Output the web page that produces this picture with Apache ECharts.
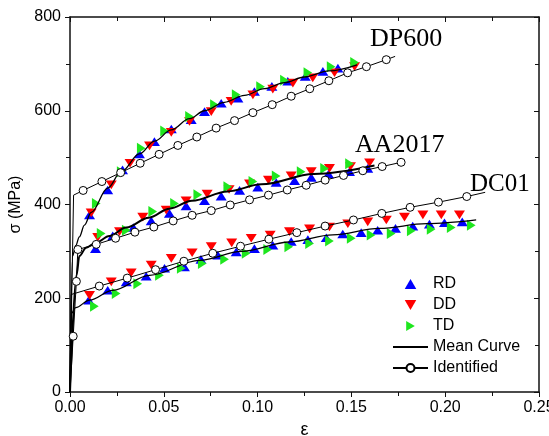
<!DOCTYPE html>
<html><head><meta charset="utf-8">
<script src="https://cdn.jsdelivr.net/npm/echarts@6/dist/echarts.min.js"></script>
<style>html,body{margin:0;padding:0;background:#fff}#c{width:549px;height:436px}</style>
</head><body><div id="c"></div>
<script>
// ---------- axes ----------
const xTickValues = [0, 0.05, 0.10, 0.15, 0.20, 0.25];
const xTickLabels = ['0.00', '0.05', '0.10', '0.15', '0.20', '0.25'];
const yTickValues = [0, 200, 400, 600, 800];
const yTickLabels = ['0', '200', '400', '600', '800'];

// ---------- DP600 ----------
const dp600RD = [[0.0104,378],[0.0201,431],[0.028,474],[0.037,508],[0.045,534],[0.054,561],[0.0646,581],[0.0717,598],[0.0806,616],[0.0895,627],[0.0983,641],[0.1076,652],[0.1161,663],[0.1254,673],[0.1348,684],[0.1428,691]];
const dp600DD = [[0.0113,382],[0.022,442],[0.032,488],[0.0424,525],[0.054,554],[0.0637,577],[0.0753,598],[0.0859,620],[0.0975,634],[0.1081,646],[0.1188,659],[0.1294,670],[0.141,681],[0.1517,694]];
const dp600TD = [[0.014,402],[0.0273,470],[0.038,520],[0.0504,557],[0.0637,588],[0.077,613],[0.0886,634],[0.1016,651],[0.1143,665],[0.1268,681],[0.1392,694],[0.1517,703]];
const dp600Mean = [[0,0],[0.0014,290],[0.003,312],[0.005,331],[0.0077,356],[0.0113,383],[0.0201,435],[0.0273,470],[0.037,508],[0.045,535],[0.054,559],[0.0637,583],[0.0717,600],[0.0823,618],[0.093,633],[0.1037,647],[0.1143,660],[0.125,672],[0.138,685],[0.153,698]];
const dp600IdStart = [[0,0],[0.0019,420]];
const dp600IdPts = [[0.007,430],[0.017,449],[0.027,468],[0.0374,488],[0.0475,507],[0.0575,526],[0.0676,544],[0.0779,563],[0.0877,579],[0.0975,596],[0.1078,613],[0.1179,631],[0.1278,647],[0.138,664],[0.148,681],[0.158,694],[0.1686,709]];
const dp600IdEnd = [[0.1733,716]];

// ---------- AA2017 ----------
const aaRD = [[0.0136,306],[0.0228,333],[0.0338,351],[0.0433,365],[0.053,381],[0.0619,397],[0.0717,408],[0.0806,418],[0.0904,430],[0.1001,437],[0.1099,447],[0.1197,451],[0.1286,458],[0.1378,465],[0.149,470],[0.1587,477]];
const aaDD = [[0.0148,330],[0.0264,342],[0.0388,373],[0.0513,388],[0.0619,408],[0.0731,422],[0.0848,432],[0.0957,444],[0.1058,452],[0.1179,461],[0.1286,470],[0.1383,477],[0.1495,481],[0.1597,489]];
const aaTD = [[0.0166,338],[0.03,345],[0.0441,385],[0.0557,402],[0.0681,421],[0.0841,438],[0.0975,449],[0.1099,461],[0.1232,470],[0.1357,477],[0.149,487]];
const aaMean = [[0,0],[0.0035,250],[0.005,290],[0.0086,308],[0.014,319],[0.021,333],[0.03,351],[0.042,372],[0.053,391],[0.065,408],[0.084,428],[0.102,443],[0.13,465],[0.1623,483]];
const aaIdStart = [[0,0]];
const aaIdPts = [[0.0017,119],[0.0034,236],[0.0042,304],[0.014,315],[0.0243,328],[0.0346,341],[0.0447,352],[0.055,365],[0.0651,377],[0.0753,387],[0.0854,399],[0.0957,410],[0.1058,420],[0.1158,431],[0.1259,441],[0.136,452],[0.1458,462],[0.1561,472],[0.1664,481],[0.1765,490]];
const aaIdEnd = [];

// ---------- DC01 ----------
const dcRD = [[0.01,196],[0.0201,217],[0.03,235],[0.0406,247],[0.0504,264],[0.061,267],[0.0698,283],[0.0788,292],[0.0886,299],[0.0983,306],[0.1081,313],[0.1179,321],[0.1268,325],[0.1366,329],[0.1454,337],[0.1552,340],[0.164,345],[0.1735,349],[0.1827,354],[0.1916,358],[0.1996,361],[0.2091,363]];
const dcDD = [[0.0104,206],[0.022,235],[0.0326,254],[0.0433,271],[0.054,285],[0.0651,297],[0.0753,310],[0.0862,318],[0.0966,328],[0.1067,335],[0.117,342],[0.1277,348],[0.1383,352],[0.1481,359],[0.1587,363],[0.1686,367],[0.1783,373],[0.1881,378],[0.1979,378],[0.2076,378]];
const dcTD = [[0.013,183],[0.0246,210],[0.0361,231],[0.0477,249],[0.0593,264],[0.0705,274],[0.0824,283],[0.0939,296],[0.1054,304],[0.1166,310],[0.1277,317],[0.1383,322],[0.1499,328],[0.1605,335],[0.1712,338],[0.1819,344],[0.1925,347],[0.2032,351],[0.2139,356]];
const dcMean = [[0,0],[0.0008,168],[0.003,180],[0.0104,196],[0.0228,217],[0.0424,249],[0.069,281],[0.0917,300],[0.117,320],[0.14,335],[0.165,349],[0.19,359],[0.2165,367]];
const dcIdStart = [[0,0],[0.0006,208]];
const dcIdPts = [[0.0156,226],[0.0305,243],[0.0456,261],[0.0607,279],[0.0761,296],[0.0909,311],[0.106,326],[0.1209,340],[0.136,354],[0.1511,367],[0.1662,381],[0.1813,394],[0.1964,405],[0.2115,417]];
const dcIdEnd = [[0.2213,426]];

const materialLabels = ['DP600', 'AA2017', 'DC01'];

// ---------- build ----------
const chart = echarts.init(document.getElementById('c'), null, {renderer: 'canvas'});
const SANS = 'Liberation Sans, Arial, sans-serif';
const SERIF = 'Liberation Serif, Times New Roman, serif';
const BLUE = '#0000ff', RED = '#ff0000', GREEN = '#1ee61e';
const UP = 'path://M1,0L2,1.732L0,1.732Z';
const DOWN = 'path://M0,0L2,0L1,1.732Z';
const RIGHT = 'path://M0,0L1.732,1L0,2Z';

function scatter(name, data, symbol, size, color) {
  return {name, type: 'scatter', data, symbol, symbolSize: size, symbolKeepAspect: true, z: 2,
    itemStyle: {color, opacity: 1}, xAxisIndex: 0, yAxisIndex: 0};
}
function mean(data, w) {
  return {name: 'Mean Curve', type: 'line', data, symbol: 'none', smooth: 0.35, smoothMonotone: 'x', z: 3,
    lineStyle: {color: '#000', width: w}, itemStyle: {color: '#000'}};
}
function ident(start, pts, end) {
  const data = [
    ...start.map(p => ({value: p, symbol: 'none'})),
    ...pts.map(p => ({value: p})),
    ...end.map(p => ({value: p, symbol: 'none'}))
  ];
  return {name: 'Identified', type: 'line', data, symbol: 'circle', symbolSize: 8, showSymbol: true, z: 4,
    lineStyle: {color: '#000', width: 1}, itemStyle: {color: '#fff', borderColor: '#000', borderWidth: 1}};
}

const tickStyle = {color: '#111', width: 1};
const axisCommon = {
  axisLine: {show: true, onZero: false, lineStyle: {color: '#111', width: 1.5}},
  splitLine: {show: false},
};

const option = {
  backgroundColor: '#fff',
  animation: false,
  grid: {left: 70, right: 10, top: 17, bottom: 44, containLabel: false, outerBoundsMode: 'none'},
  xAxis: [
    Object.assign({type: 'value', min: 0, max: 0.25, interval: 0.05, position: 'bottom',
      axisTick: {show: true, inside: false, length: 5, lineStyle: tickStyle},
      minorTick: {show: true, splitNumber: 2, length: 4, lineStyle: tickStyle},
      axisLabel: {color: '#000', fontSize: 16, fontFamily: SANS, margin: 8,
        formatter: v => { const i = xTickValues.findIndex(t => Math.abs(t - v) < 1e-9); return i >= 0 ? xTickLabels[i] : ''; }},
      name: 'ε', nameLocation: 'middle', nameGap: 27,
      nameTextStyle: {color: '#000', fontSize: 18, fontFamily: SANS}}, axisCommon),
    Object.assign({type: 'value', min: 0, max: 0.25, interval: 0.05, position: 'top',
      axisTick: {show: true, inside: true, length: 5, lineStyle: tickStyle},
      minorTick: {show: true, splitNumber: 2, length: 4, lineStyle: tickStyle},
      axisLabel: {show: false}}, axisCommon)
  ],
  yAxis: [
    Object.assign({type: 'value', min: 0, max: 800, interval: 200, position: 'left',
      axisTick: {show: true, inside: false, length: 5, lineStyle: tickStyle},
      minorTick: {show: true, splitNumber: 2, length: 4, lineStyle: tickStyle},
      axisLabel: {color: '#000', fontSize: 16, fontFamily: SANS, margin: 9,
        formatter: v => { const i = yTickValues.indexOf(v); return i >= 0 ? yTickLabels[i] : ''; }},
      name: 'σ (MPa)', nameLocation: 'middle', nameGap: 42,
      nameTextStyle: {color: '#000', fontSize: 16, fontFamily: SANS}}, axisCommon),
    Object.assign({type: 'value', min: 0, max: 800, interval: 200, position: 'right',
      axisTick: {show: true, inside: true, length: 5, lineStyle: tickStyle},
      minorTick: {show: true, splitNumber: 2, length: 4, lineStyle: tickStyle},
      axisLabel: {show: false}}, axisCommon)
  ],
  legend: {
    orient: 'vertical', left: 387, top: 271,
    itemWidth: 35, itemHeight: 10, itemGap: 5,
    textStyle: {color: '#000', fontSize: 16, fontFamily: SANS, lineHeight: 16},
    data: ['RD', 'DD', 'TD', {name: 'Mean Curve', itemStyle: {opacity: 0}}, 'Identified'],
    selectedMode: false
  },
  series: [
    scatter('RD', [...dp600RD, ...aaRD, ...dcRD], UP, [11, 10], BLUE),
    scatter('DD', [...dp600DD, ...aaDD, ...dcDD], DOWN, [11, 10], RED),
    scatter('TD', [...dp600TD, ...aaTD, ...dcTD], RIGHT, [10, 11], GREEN),
    mean(dp600Mean, 1.3),
    mean(aaMean, 2),
    mean(dcMean, 1.3),
    ident(dp600IdStart, dp600IdPts, dp600IdEnd),
    ident(aaIdStart, aaIdPts, aaIdEnd),
    ident(dcIdStart, dcIdPts, dcIdEnd)
  ],
  graphic: [
    {type: 'text', left: 370, top: 26, style: {text: materialLabels[0], fill: '#000', font: '26px ' + SERIF}},
    {type: 'text', left: 355, top: 132, style: {text: materialLabels[1], fill: '#000', font: '26px ' + SERIF}},
    {type: 'text', left: 470, top: 172, style: {text: materialLabels[2], fill: '#000', font: '25px ' + SERIF}}
  ]
};
chart.setOption(option);
</script>
</body></html>
